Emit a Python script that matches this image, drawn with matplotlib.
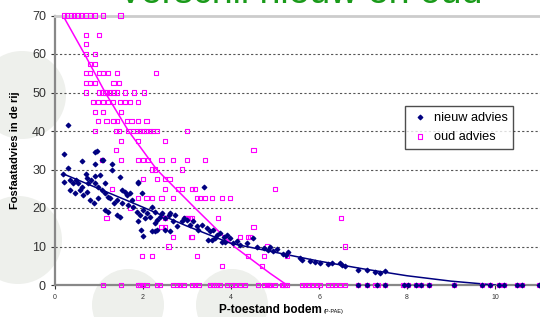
import matplotlib.pyplot as plt
from matplotlib.patches import Circle

plt.rcParams['font.family'] = ['Liberation Sans', 'DejaVu Sans']

# nieuw advies (P-toestand, advies)
nieuw_x = [0.3, 0.95, 0.21, 0.30, 0.61, 0.91, 0.92, 1.06, 1.1, 1.3, 1.3,
           0.19, 0.21, 0.34, 0.42, 0.47, 0.52, 0.61, 0.7, 0.72, 0.76, 0.82,
           0.91, 0.92, 0.98, 1.02, 1.06, 1.14, 1.2,
           0.34, 0.45, 0.57, 0.64, 0.72, 0.8, 0.89, 0.98,
           1.14, 1.25, 1.33, 1.4, 1.48, 1.52, 1.59, 1.63, 1.7, 1.74,
           1.14, 1.21, 1.4, 1.48, 1.52, 1.67, 1.78,
           1.89, 1.89, 1.97,
           1.86, 1.93, 2.01, 2.05, 2.08, 2.16, 2.2, 2.27, 2.31, 2.39, 2.42,
           1.89, 1.95, 2.01, 2.2, 2.27, 2.27, 2.31,
           2.5, 2.58, 2.61, 2.69, 2.73, 2.77, 2.5, 2.61,
           2.88, 2.92, 2.99, 3.07, 3.14, 3.22, 3.26, 3.39,
           3.33, 3.45, 3.52, 3.6, 3.67, 3.75, 3.83, 3.9, 3.98,
           3.48, 3.56, 3.64, 3.79, 3.86,
           4.05, 4.13, 4.2, 4.36, 4.51, 4.59, 4.74, 4.85, 4.89,
           4.96, 5.04, 5.19, 5.26, 5.3, 5.57, 5.61, 5.8, 5.91, 6.02, 6.21, 6.29, 6.48, 6.51,
           6.59, 6.89, 7.08, 7.27, 7.39, 7.5,
           6.89, 7.08, 7.31, 7.5, 7.92, 8.01, 8.2, 8.31, 8.5, 9.07, 9.7, 9.89, 10.08, 10.2,
           10.5, 10.61, 11.0]
nieuw_y = [41.6, 34.8, 34.0, 30.3, 32.3, 34.6, 31.4, 32.5, 32.5, 31.4, 30.0,
           28.8, 26.8, 27.4, 26.4, 27.3, 26.4, 25.5, 28.8, 27.7, 26.4, 27.4,
           26.4, 28.3, 25.5, 28.7, 24.8, 26.4, 22.9,
           24.8, 23.8, 24.8, 23.4, 24.2, 22.1, 21.4, 22.5,
           23.8, 22.5, 21.2, 22.1, 28.1, 24.7, 24.2, 23.4, 23.8, 22.1,
           19.5, 19.0, 18.2, 17.7, 21.2, 20.8, 20.3,
           26.8, 26.4, 23.8,
           19.0, 18.2, 19.5, 17.3, 18.6, 17.7, 20.3, 19.0, 16.9, 17.7, 18.6,
           16.5, 14.3, 12.6, 13.9, 13.9, 16.0, 14.3,
           17.3, 18.2, 18.6, 16.5, 18.2, 15.2, 14.3, 13.9,
           16.5, 17.3, 16.9, 15.6, 16.5, 15.2, 14.3, 25.5,
           15.6, 14.7, 13.9, 14.3, 13.0, 13.4, 12.4, 13.0, 12.1,
           11.7, 11.7, 12.1, 11.2, 11.2,
           10.8, 11.3, 10.4, 10.8, 12.1, 9.9, 9.5, 9.1, 9.9,
           8.9, 9.4, 8.1, 7.7, 8.6, 7.1, 6.4, 6.3, 6.1, 5.6, 5.5, 5.6, 5.8, 5.2,
           5.0, 3.9, 3.9, 3.5, 3.0, 3.7,
           0, 0, 0, 0, 0, 0, 0, 0, 0, 0, 0, 0, 0, 0,
           0, 0, 0]

# oud advies: adviesniveaus en de P-toestanden per niveau
oud_levels = [70, 65, 62.5, 60, 57.5, 55, 52.5, 50, 47.5, 45, 42.5, 40, 37.5, 35, 32.5,
              30, 27.5, 25, 22.5, 20, 17.5, 15, 12.5, 10, 7.5, 5, 0]
oud_x_per_level = [
    [0.2, 0.28, 0.36, 0.43, 0.51, 0.59, 0.7, 0.8, 0.91, 1.1, 1.49],
    [0.7, 1.0],
    [0.7],
    [0.7, 0.91],
    [0.8, 0.91],
    [0.7, 0.8, 1.0, 1.1, 1.21, 1.4, 2.3],
    [0.7, 0.8, 0.91, 1.33, 1.46],
    [0.7, 1.0, 1.08, 1.13, 1.19, 1.25, 1.33, 1.4, 1.59, 1.8, 2.02],
    [0.87, 0.98, 1.1, 1.21, 1.31, 1.48, 1.59, 1.7, 1.89],
    [0.91, 1.1, 1.5],
    [0.98, 1.17, 1.33, 1.4, 1.63, 1.74, 1.89, 2.08],
    [0.91, 1.39, 1.46, 1.67, 1.78, 1.86, 1.93, 2.01, 2.08, 2.16, 2.23, 2.31, 2.99],
    [1.5, 1.89, 2.5],
    [1.39, 4.51],
    [1.06, 1.5, 1.89, 2.0, 2.12, 2.42, 2.69, 2.99, 3.41],
    [2.2, 2.27, 2.88],
    [2.0, 2.31, 2.5, 2.6],
    [1.29, 2.5, 2.8, 2.88, 3.11, 3.18, 5.0],
    [1.89, 2.08, 2.2, 2.42, 2.69, 3.22, 3.3, 3.41, 3.56, 3.79, 3.98],
    [1.7],
    [1.17, 2.5, 2.95, 2.99, 3.07, 3.11, 3.71, 3.0, 6.49],
    [2.42, 2.5, 4.51],
    [2.69, 3.11, 4.2, 4.39, 3.1, 4.43],
    [2.58, 4.81, 6.59],
    [1.97, 2.2, 3.22, 4.39, 4.74, 5.27],
    [3.79, 4.7],
    [1.1, 1.5, 1.89, 1.93, 2.0, 2.08, 2.31, 2.39, 2.69, 2.77, 2.84, 2.92, 3.11, 3.18,
     3.26, 3.52, 3.6, 3.67, 3.75, 3.9, 4.01, 4.09, 4.2, 4.32, 4.62, 4.74, 4.81, 4.87,
     4.89, 5.0, 5.15, 5.19, 5.23, 5.27, 5.61, 5.68, 5.76, 5.83, 5.95, 6.02, 6.21, 6.29,
     6.36, 6.48, 6.59, 6.89, 7.08, 7.27, 7.34, 7.5, 7.92, 8.01, 8.2, 8.31, 8.5, 9.07,
     9.7, 9.89, 10.08, 10.2, 10.5, 10.61, 11.0],
]

trend_nieuw_x = [0.2, 1, 2, 3, 4, 5, 6, 7, 8, 9, 10]
trend_nieuw_y = [28.8, 25.0, 20.2, 15.3, 10.8, 8.5, 6.2, 4.2, 2.4, 1.0, 0]
trend_oud_x = [0.18, 0.67, 1.14, 1.67, 2.31, 3.18, 4.07, 4.89, 5.27]
trend_oud_y = [70, 60, 50, 40, 30, 20, 10, 3, 0]

oud_x = [x for xs in oud_x_per_level for x in xs]
oud_y = [lv for lv, xs in zip(oud_levels, oud_x_per_level) for _ in xs]

fig = plt.figure(figsize=(5.4, 3.17), dpi=100)

# achtergrond met lichte cirkels (pixelcoordinaten)
bg = fig.add_axes([0, 0, 1, 1], zorder=0)
bg.set_xlim(0, 540)
bg.set_ylim(317, 0)
bg.axis('off')
for cx, cy, r in [(22, 95, 44), (18, 240, 44), (128, 305, 36), (232, 305, 36)]:
    bg.add_patch(Circle((cx, cy), r, facecolor='#eef0ec', edgecolor='none'))

fig.text(0.555, 1 - 3 / 317, 'Verschil nieuw en oud', color='#1a9a1a', fontsize=27,
         ha='center', va='baseline', zorder=3)

ax = fig.add_axes([55 / 540, 32 / 317, 485 / 540, 269.5 / 317], zorder=1)
ax.patch.set_alpha(0)

ax.plot(trend_oud_x, trend_oud_y, color='#ff00ff', lw=1.1, zorder=2)
ax.plot(trend_nieuw_x, trend_nieuw_y, color='#000080', lw=1.1, zorder=3)
ax.scatter(oud_x, oud_y, marker='s', s=9, facecolors='none', edgecolors='#ff00ff',
           linewidths=0.8, label='oud advies', zorder=4, clip_on=False)
ax.scatter(nieuw_x, nieuw_y, marker='D', s=5, color='#000080', label='nieuw advies',
           zorder=5, clip_on=False)

ax.set_xlim(0, 11.02)
ax.set_ylim(0, 70)
ax.set_yticks(range(0, 71, 10))
ax.set_xticks(range(0, 11, 2))
ax.tick_params(axis='y', labelsize=9, colors='#333333', length=3, width=0.8)
ax.tick_params(axis='x', labelsize=5, colors='#333333', length=3, width=0.8)
for v in range(10, 70, 10):
    ax.axhline(v, color='#555555', lw=0.8, ls=(0, (2, 2)), zorder=1)

ax.spines['right'].set_visible(False)
ax.spines['top'].set_color('#cccccc')
ax.spines['top'].set_linewidth(2)
ax.spines['left'].set_color('#888888')
ax.spines['left'].set_linewidth(1.6)
ax.spines['bottom'].set_color('#888888')
ax.spines['bottom'].set_linewidth(1.6)

ax.set_ylabel('Fosfaatadvies in de rij', fontsize=8, fontweight='bold')
ax.yaxis.set_label_coords(-35 / 485, 0.5)
fig.text(270 / 540, 1 - 313 / 317, 'P-toestand bodem', fontsize=8.5, fontweight='bold',
         ha='center', va='baseline', zorder=3)
fig.text(324 / 540, 1 - 313 / 317, '(P-PAE)', fontsize=4, ha='left', va='baseline', zorder=3)

h, l = ax.get_legend_handles_labels()
leg = ax.legend(h[::-1], l[::-1], loc='upper left', bbox_to_anchor=(350 / 485, 179 / 269.5),
                borderaxespad=0, fontsize=9.2, frameon=True, fancybox=False,
                edgecolor='#222222', handletextpad=0.3, borderpad=0.45, labelspacing=0.55,
                handlelength=1.5)
leg.get_frame().set_linewidth(1.0)

fig.savefig('out.png', dpi=100)
